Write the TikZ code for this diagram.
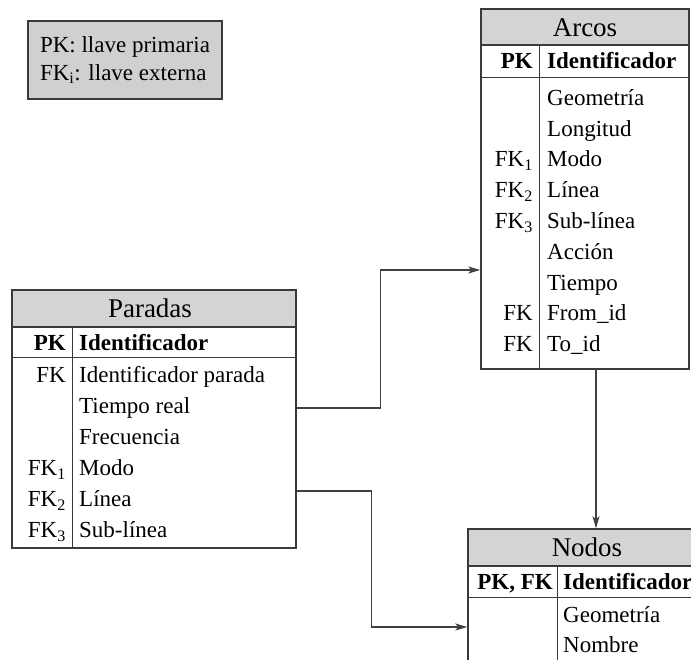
\documentclass[tikz,border=0pt]{standalone}
\usepackage{fontspec}
\setmainfont{Liberation Serif}
\usetikzlibrary{arrows.meta,calc}
\definecolor{hdrgray}{HTML}{D4D4D4}
\definecolor{keygray}{HTML}{D0D0D0}
\definecolor{edge}{HTML}{3A3A3A}
\definecolor{wire}{HTML}{404040}
\tikzset{
  tbl/.style={draw=edge, line width=1.4pt, rectangle, inner sep=0pt},
  hrule/.style={draw=edge, line width=1.3pt},
  lrule/.style={draw=edge, line width=0.9pt},
  title/.style={font=\fontsize{27}{30}\selectfont, inner sep=0pt, anchor=mid, yshift=-6pt},
  keytxt/.style={anchor=mid east, inner sep=0pt, yshift=-5pt},
  attr/.style={anchor=mid west, inner sep=0pt, yshift=-5pt},
  conn/.style={draw=wire, line width=1.2pt, -{Stealth[length=12pt,width=7pt,inset=3pt]}},
}
\begin{document}
\begin{tikzpicture}[x=1pt, y=-1pt, font=\fontsize{23}{28}\selectfont]
\useasboundingbox (0,0) rectangle (691,660);
\clip (0,0) rectangle (691,660);

% legend box
\node[draw=edge, line width=1.3pt, fill=keygray, minimum width=194pt, minimum height=78pt,
      align=left, inner sep=0pt] (legend) at (125,60)
  {PK: llave primaria\\FK\textsubscript{i}: llave externa};

% ---------- Paradas ----------
\fill[hdrgray] (12,290) rectangle (296,327);
\node[tbl, minimum width=284pt, minimum height=258pt] (paradas) at (154,419) {};
\draw[hrule] (12,327) -- (296,327);
\draw[lrule] (12,357) -- (296,357);
\draw[lrule] (72,327) -- (72,548);
\node[title] (paradas-t) at (150,309) {Paradas};
\node[keytxt] (paradas-k0) at (66,343) {\textbf{PK}};
\node[attr]   (paradas-a0) at (79,343) {\textbf{Identificador}};
\node[keytxt] (paradas-k1) at (66,375) {FK};
\node[attr]   (paradas-a1) at (79,375) {Identificador parada};
\node[attr]   (paradas-a2) at (79,406) {Tiempo real};
\node[attr]   (paradas-a3) at (79,437) {Frecuencia};
\node[keytxt] (paradas-k4) at (66,468) {FK\textsubscript{1}};
\node[attr]   (paradas-a4) at (79,468) {Modo};
\node[keytxt] (paradas-k5) at (66,499) {FK\textsubscript{2}};
\node[attr]   (paradas-a5) at (79,499) {Línea};
\node[keytxt] (paradas-k6) at (66,530) {FK\textsubscript{3}};
\node[attr]   (paradas-a6) at (79,530) {Sub-línea};

% ---------- Arcos ----------
\fill[hdrgray] (481,9) rectangle (689,45);
\node[tbl, minimum width=208pt, minimum height=360pt] (arcos) at (585,189) {};
\draw[hrule] (481,45) -- (689,45);
\draw[lrule] (481,77) -- (689,77);
\draw[lrule] (539,45) -- (539,369);
\node[title] (arcos-t) at (585,28) {Arcos};
\node[keytxt] (arcos-k0) at (533,61) {\textbf{PK}};
\node[attr]   (arcos-a0) at (547,61) {\textbf{Identificador}};
\node[attr]   (arcos-a1) at (547,98) {Geometría};
\node[attr]   (arcos-a2) at (547,128.8) {Longitud};
\node[keytxt] (arcos-k3) at (533,159.6) {FK\textsubscript{1}};
\node[attr]   (arcos-a3) at (547,159.6) {Modo};
\node[keytxt] (arcos-k4) at (533,190.4) {FK\textsubscript{2}};
\node[attr]   (arcos-a4) at (547,190.4) {Línea};
\node[keytxt] (arcos-k5) at (533,221.2) {FK\textsubscript{3}};
\node[attr]   (arcos-a5) at (547,221.2) {Sub-línea};
\node[attr]   (arcos-a6) at (547,252) {Acción};
\node[attr]   (arcos-a7) at (547,282.8) {Tiempo};
\node[keytxt] (arcos-k8) at (533,313.6) {FK};
\node[attr]   (arcos-a8) at (547,313.6) {From\_id};
\node[keytxt] (arcos-k9) at (533,344.4) {FK};
\node[attr]   (arcos-a9) at (547,344.4) {To\_id};

% ---------- Nodos ----------
\fill[hdrgray] (468,529) rectangle (706,566);
\node[tbl, minimum width=238pt, minimum height=171pt] (nodos) at (587,614.5) {};
\draw[hrule] (468,566) -- (706,566);
\draw[lrule] (468,597) -- (706,597);
\draw[lrule] (557,566) -- (557,700);
\node[title] (nodos-t) at (587,548) {Nodos};
\node[keytxt] (nodos-k0) at (553,582) {\textbf{PK, FK}};
\node[attr]   (nodos-a0) at (563,582) {\textbf{Identificador}};
\node[attr]   (nodos-a1) at (563,615) {Geometría};
\node[attr]   (nodos-a2) at (563,645) {Nombre};

% ---------- relations ----------
\draw[conn] ($(paradas.east)+(0,-11)$) -- ++(84,0) |- ($(arcos.west)+(0,81)$);
\draw[conn] ($(paradas.east)+(0,72)$) -- ++(75,0) |- ($(nodos.west)+(0,12.5)$);
\draw[conn] ($(arcos.south)+(11,0)$) -- ($(nodos.north)+(9,0)$);
\end{tikzpicture}
\end{document}
